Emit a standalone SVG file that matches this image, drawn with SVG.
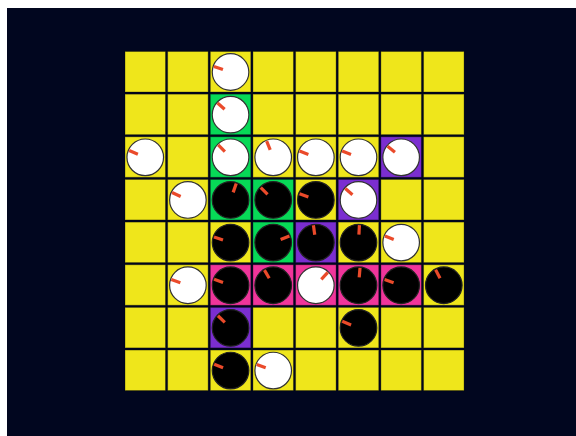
<svg xmlns="http://www.w3.org/2000/svg" xmlns:xlink="http://www.w3.org/1999/xlink" width="576" height="436" viewBox="0 0 576 436">
<style>
.c{stroke:#000;stroke-opacity:0.3;stroke-width:1}
.y{fill:#efe61b}.g{fill:#07d957}.p{fill:#7b2ed0}.k{fill:#f0359b}
.w{fill:#ffffff;stroke:#333;stroke-width:1.2}
.b{fill:#000000;stroke:#222;stroke-width:1.2}
.t{stroke:#ea4a2a;stroke-width:3.2;stroke-linecap:butt}
</style>
<defs>
<circle id="W" class="w" cx="0" cy="0" r="18.3"/>
<circle id="B" class="b" cx="0" cy="0" r="18.3"/>
</defs>
<rect x="0" y="0" width="576" height="436" fill="#ffffff"/>
<rect x="7" y="8" width="569" height="428" fill="#01061f"/>
<g id="board">
<!-- row 0 -->
<g id="r0c0" transform="translate(125,51.5)"><rect class="c y" width="40.5" height="40.5"/></g>
<g id="r0c1" transform="translate(167.65,51.5)"><rect class="c y" width="40.5" height="40.5"/></g>
<g id="r0c2" transform="translate(210.3,51.5)"><rect class="c y" width="40.5" height="40.5"/><g transform="translate(20.25,20.5)"><use href="#W"/><line class="t" x1="8" x2="17.5" transform="rotate(198)"/></g></g>
<g id="r0c3" transform="translate(252.95,51.5)"><rect class="c y" width="40.5" height="40.5"/></g>
<g id="r0c4" transform="translate(295.6,51.5)"><rect class="c y" width="40.5" height="40.5"/></g>
<g id="r0c5" transform="translate(338.25,51.5)"><rect class="c y" width="40.5" height="40.5"/></g>
<g id="r0c6" transform="translate(380.9,51.5)"><rect class="c y" width="40.5" height="40.5"/></g>
<g id="r0c7" transform="translate(423.55,51.5)"><rect class="c y" width="40.5" height="40.5"/></g>
<!-- row 1 -->
<g id="r1c0" transform="translate(125,94.15)"><rect class="c y" width="40.5" height="40.5"/></g>
<g id="r1c1" transform="translate(167.65,94.15)"><rect class="c y" width="40.5" height="40.5"/></g>
<g id="r1c2" transform="translate(210.3,94.15)"><rect class="c g" width="40.5" height="40.5"/><g transform="translate(20.25,20.5)"><use href="#W"/><line class="t" x1="8" x2="17.5" transform="rotate(222)"/></g></g>
<g id="r1c3" transform="translate(252.95,94.15)"><rect class="c y" width="40.5" height="40.5"/></g>
<g id="r1c4" transform="translate(295.6,94.15)"><rect class="c y" width="40.5" height="40.5"/></g>
<g id="r1c5" transform="translate(338.25,94.15)"><rect class="c y" width="40.5" height="40.5"/></g>
<g id="r1c6" transform="translate(380.9,94.15)"><rect class="c y" width="40.5" height="40.5"/></g>
<g id="r1c7" transform="translate(423.55,94.15)"><rect class="c y" width="40.5" height="40.5"/></g>
<!-- row 2 -->
<g id="r2c0" transform="translate(125,136.8)"><rect class="c y" width="40.5" height="40.5"/><g transform="translate(20.25,20.5)"><use href="#W"/><line class="t" x1="8" x2="17.5" transform="rotate(203)"/></g></g>
<g id="r2c1" transform="translate(167.65,136.8)"><rect class="c y" width="40.5" height="40.5"/></g>
<g id="r2c2" transform="translate(210.3,136.8)"><rect class="c g" width="40.5" height="40.5"/><g transform="translate(20.25,20.5)"><use href="#W"/><line class="t" x1="8" x2="17.5" transform="rotate(225)"/></g></g>
<g id="r2c3" transform="translate(252.95,136.8)"><rect class="c y" width="40.5" height="40.5"/><g transform="translate(20.25,20.5)"><use href="#W"/><line class="t" x1="8" x2="17.5" transform="rotate(248)"/></g></g>
<g id="r2c4" transform="translate(295.6,136.8)"><rect class="c y" width="40.5" height="40.5"/><g transform="translate(20.25,20.5)"><use href="#W"/><line class="t" x1="8" x2="17.5" transform="rotate(201)"/></g></g>
<g id="r2c5" transform="translate(338.25,136.8)"><rect class="c y" width="40.5" height="40.5"/><g transform="translate(20.25,20.5)"><use href="#W"/><line class="t" x1="8" x2="17.5" transform="rotate(201)"/></g></g>
<g id="r2c6" transform="translate(380.9,136.8)"><rect class="c p" width="40.5" height="40.5"/><g transform="translate(20.25,20.5)"><use href="#W"/><line class="t" x1="8" x2="17.5" transform="rotate(219)"/></g></g>
<g id="r2c7" transform="translate(423.55,136.8)"><rect class="c y" width="40.5" height="40.5"/></g>
<!-- row 3 -->
<g id="r3c0" transform="translate(125,179.45)"><rect class="c y" width="40.5" height="40.5"/></g>
<g id="r3c1" transform="translate(167.65,179.45)"><rect class="c y" width="40.5" height="40.5"/><g transform="translate(20.25,20.5)"><use href="#W"/><line class="t" x1="8" x2="17.5" transform="rotate(205)"/></g></g>
<g id="r3c2" transform="translate(210.3,179.45)"><rect class="c g" width="40.5" height="40.5"/><g transform="translate(20.25,20.5)"><use href="#B"/><line class="t" x1="8" x2="17.5" transform="rotate(289)"/></g></g>
<g id="r3c3" transform="translate(252.95,179.45)"><rect class="c g" width="40.5" height="40.5"/><g transform="translate(20.25,20.5)"><use href="#B"/><line class="t" x1="8" x2="17.5" transform="rotate(225)"/></g></g>
<g id="r3c4" transform="translate(295.6,179.45)"><rect class="c y" width="40.5" height="40.5"/><g transform="translate(20.25,20.5)"><use href="#B"/><line class="t" x1="8" x2="17.5" transform="rotate(201)"/></g></g>
<g id="r3c5" transform="translate(338.25,179.45)"><rect class="c p" width="40.5" height="40.5"/><g transform="translate(20.25,20.5)"><use href="#W"/><line class="t" x1="8" x2="17.5" transform="rotate(221)"/></g></g>
<g id="r3c6" transform="translate(380.9,179.45)"><rect class="c y" width="40.5" height="40.5"/></g>
<g id="r3c7" transform="translate(423.55,179.45)"><rect class="c y" width="40.5" height="40.5"/></g>
<!-- row 4 -->
<g id="r4c0" transform="translate(125,222.1)"><rect class="c y" width="40.5" height="40.5"/></g>
<g id="r4c1" transform="translate(167.65,222.1)"><rect class="c y" width="40.5" height="40.5"/></g>
<g id="r4c2" transform="translate(210.3,222.1)"><rect class="c y" width="40.5" height="40.5"/><g transform="translate(20.25,20.5)"><use href="#B"/><line class="t" x1="8" x2="17.5" transform="rotate(199)"/></g></g>
<g id="r4c3" transform="translate(252.95,222.1)"><rect class="c g" width="40.5" height="40.5"/><g transform="translate(20.25,20.5)"><use href="#B"/><line class="t" x1="8" x2="17.5" transform="rotate(338)"/></g></g>
<g id="r4c4" transform="translate(295.6,222.1)"><rect class="c p" width="40.5" height="40.5"/><g transform="translate(20.25,20.5)"><use href="#B"/><line class="t" x1="8" x2="17.5" transform="rotate(262)"/></g></g>
<g id="r4c5" transform="translate(338.25,222.1)"><rect class="c y" width="40.5" height="40.5"/><g transform="translate(20.25,20.5)"><use href="#B"/><line class="t" x1="8" x2="17.5" transform="rotate(273)"/></g></g>
<g id="r4c6" transform="translate(380.9,222.1)"><rect class="c y" width="40.5" height="40.5"/><g transform="translate(20.25,20.5)"><use href="#W"/><line class="t" x1="8" x2="17.5" transform="rotate(202)"/></g></g>
<g id="r4c7" transform="translate(423.55,222.1)"><rect class="c y" width="40.5" height="40.5"/></g>
<!-- row 5 -->
<g id="r5c0" transform="translate(125,264.75)"><rect class="c y" width="40.5" height="40.5"/></g>
<g id="r5c1" transform="translate(167.65,264.75)"><rect class="c y" width="40.5" height="40.5"/><g transform="translate(20.25,20.5)"><use href="#W"/><line class="t" x1="8" x2="17.5" transform="rotate(199)"/></g></g>
<g id="r5c2" transform="translate(210.3,264.75)"><rect class="c k" width="40.5" height="40.5"/><g transform="translate(20.25,20.5)"><use href="#B"/><line class="t" x1="8" x2="17.5" transform="rotate(200)"/></g></g>
<g id="r5c3" transform="translate(252.95,264.75)"><rect class="c k" width="40.5" height="40.5"/><g transform="translate(20.25,20.5)"><use href="#B"/><line class="t" x1="8" x2="17.5" transform="rotate(240)"/></g></g>
<g id="r5c4" transform="translate(295.6,264.75)"><rect class="c k" width="40.5" height="40.5"/><g transform="translate(20.25,20.5)"><use href="#W"/><line class="t" x1="8" x2="17.5" transform="rotate(313)"/></g></g>
<g id="r5c5" transform="translate(338.25,264.75)"><rect class="c k" width="40.5" height="40.5"/><g transform="translate(20.25,20.5)"><use href="#B"/><line class="t" x1="8" x2="17.5" transform="rotate(275)"/></g></g>
<g id="r5c6" transform="translate(380.9,264.75)"><rect class="c k" width="40.5" height="40.5"/><g transform="translate(20.25,20.5)"><use href="#B"/><line class="t" x1="8" x2="17.5" transform="rotate(199)"/></g></g>
<g id="r5c7" transform="translate(423.55,264.75)"><rect class="c y" width="40.5" height="40.5"/><g transform="translate(20.25,20.5)"><use href="#B"/><line class="t" x1="8" x2="17.5" transform="rotate(242)"/></g></g>
<!-- row 6 -->
<g id="r6c0" transform="translate(125,307.4)"><rect class="c y" width="40.5" height="40.5"/></g>
<g id="r6c1" transform="translate(167.65,307.4)"><rect class="c y" width="40.5" height="40.5"/></g>
<g id="r6c2" transform="translate(210.3,307.4)"><rect class="c p" width="40.5" height="40.5"/><g transform="translate(20.25,20.5)"><use href="#B"/><line class="t" x1="8" x2="17.5" transform="rotate(224)"/></g></g>
<g id="r6c3" transform="translate(252.95,307.4)"><rect class="c y" width="40.5" height="40.5"/></g>
<g id="r6c4" transform="translate(295.6,307.4)"><rect class="c y" width="40.5" height="40.5"/></g>
<g id="r6c5" transform="translate(338.25,307.4)"><rect class="c y" width="40.5" height="40.5"/><g transform="translate(20.25,20.5)"><use href="#B"/><line class="t" x1="8" x2="17.5" transform="rotate(202)"/></g></g>
<g id="r6c6" transform="translate(380.9,307.4)"><rect class="c y" width="40.5" height="40.5"/></g>
<g id="r6c7" transform="translate(423.55,307.4)"><rect class="c y" width="40.5" height="40.5"/></g>
<!-- row 7 -->
<g id="r7c0" transform="translate(125,350.05)"><rect class="c y" width="40.5" height="40.5"/></g>
<g id="r7c1" transform="translate(167.65,350.05)"><rect class="c y" width="40.5" height="40.5"/></g>
<g id="r7c2" transform="translate(210.3,350.05)"><rect class="c y" width="40.5" height="40.5"/><g transform="translate(20.25,20.5)"><use href="#B"/><line class="t" x1="8" x2="17.5" transform="rotate(201)"/></g></g>
<g id="r7c3" transform="translate(252.95,350.05)"><rect class="c y" width="40.5" height="40.5"/><g transform="translate(20.25,20.5)"><use href="#W"/><line class="t" x1="8" x2="17.5" transform="rotate(200)"/></g></g>
<g id="r7c4" transform="translate(295.6,350.05)"><rect class="c y" width="40.5" height="40.5"/></g>
<g id="r7c5" transform="translate(338.25,350.05)"><rect class="c y" width="40.5" height="40.5"/></g>
<g id="r7c6" transform="translate(380.9,350.05)"><rect class="c y" width="40.5" height="40.5"/></g>
<g id="r7c7" transform="translate(423.55,350.05)"><rect class="c y" width="40.5" height="40.5"/></g>
</g>
</svg>
